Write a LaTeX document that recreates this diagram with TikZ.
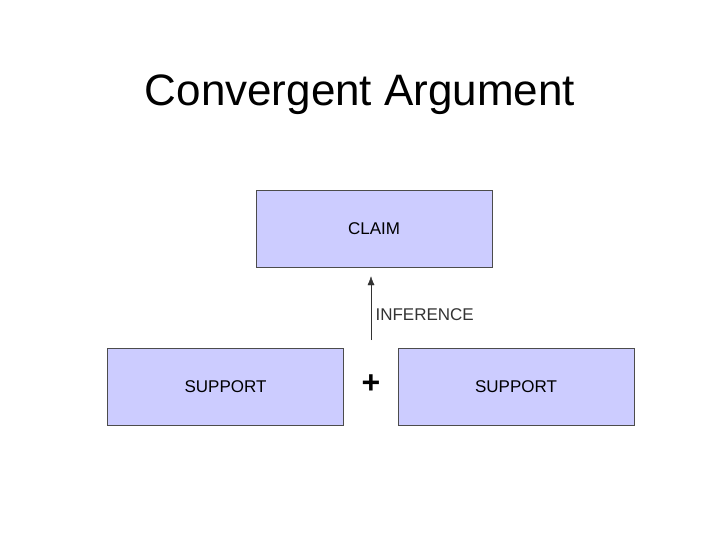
\documentclass[tikz,border=0pt]{standalone}
\usepackage{fontspec}
\setmainfont{Liberation Sans}
\usetikzlibrary{positioning,arrows.meta}

\begin{document}
\begin{tikzpicture}
        [x=1pt, y=-1pt,
        every node/.style={font=\fontsize{17}{20}\selectfont},
        argbox/.style={draw=black!70, fill={rgb,255:red,204;green,204;blue,255},
            minimum width=236pt, minimum height=77pt, inner sep=0pt}]

        \useasboundingbox (0,0) rectangle (720,540);

        \node (title) at (360,95) {\fontsize{44}{50}\selectfont Convergent Argument};

        \node[argbox] (claim) at (374,228.5) {CLAIM};
        \node[argbox] (left) at (225.5,387) {SUPPORT};
        \node[argbox] (right) at (516,387) {SUPPORT};

        \node (plus) at (371,384) {\fontsize{32}{34}\selectfont\bfseries +};
        \coordinate (base) at (371,340);

        \draw[-{Latex[length=9pt,width=7pt]}, black!80] (base) -- ([yshift=-9pt]claim.south -| base)
            node[pos=0.4, anchor=west, xshift=1pt] (inf) {INFERENCE};
\end{tikzpicture}
\end{document}
